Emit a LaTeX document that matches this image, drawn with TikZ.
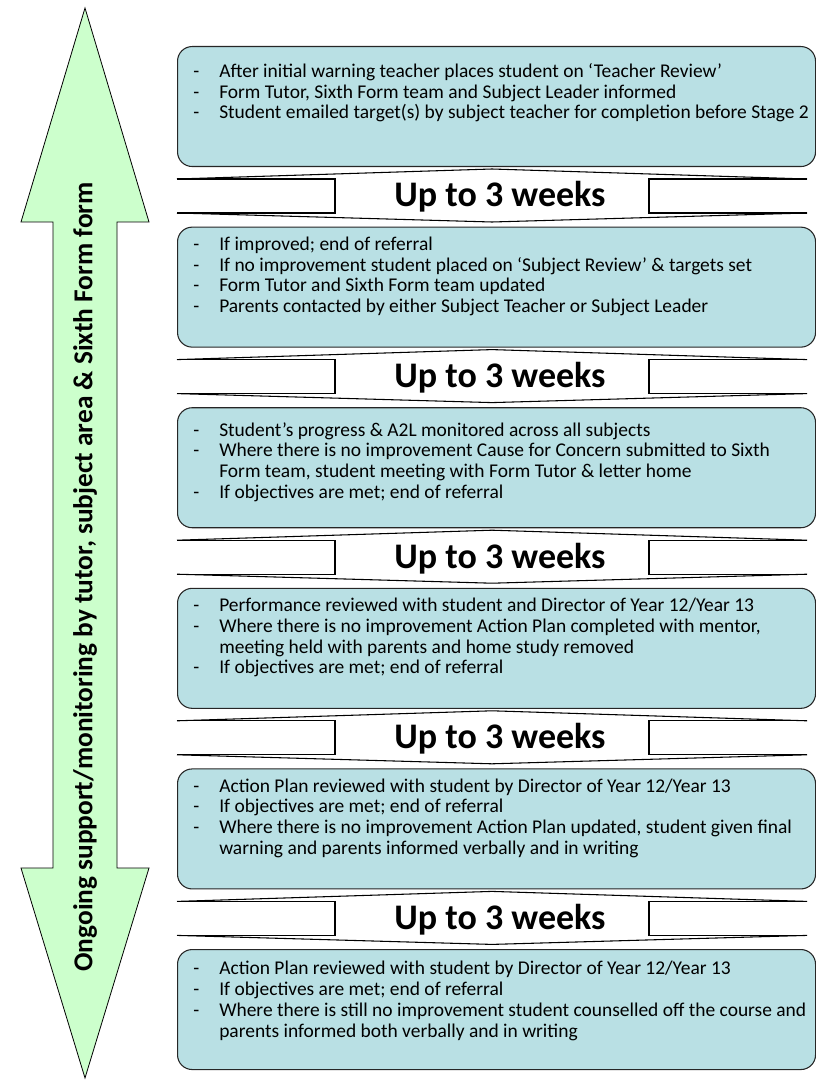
\documentclass[tikz,border=0pt]{standalone}
\usepackage{fontspec}
\setmainfont{Carlito}
\definecolor{stagefill}{RGB}{185,224,228}
\definecolor{arrowfill}{RGB}{204,255,204}
\newcommand{\itm}{\makebox[19.5pt][l]{-}}
\newcommand{\cnt}{\hspace*{19.5pt}}
\begin{document}
\begin{tikzpicture}[x=0.75pt,y=-0.75pt,
    stagebox/.style={draw=black!85,fill=stagefill,rounded corners=11pt,line width=0.8pt,
      minimum width=478.5pt,minimum height=90pt,anchor=north west,inner sep=0pt},
    stagetext/.style={anchor=north west,inner sep=0pt,align=left,font=\fontsize{14.6}{15.6}\selectfont},
    weeks/.style={font=\bfseries\fontsize{27}{30}\selectfont,inner sep=0pt},
    band/.style={draw=black,line width=0.8pt}]
  \useasboundingbox (0,0) rectangle (816,1080);
  % side arrow
  \draw[fill=arrowfill,line width=0.6pt] (85,8) -- (149,222) -- (117,222) -- (117,868) -- (149,868)
    -- (85,1078) -- (21,868) -- (53,868) -- (53,222) -- (21,222) -- cycle;
  \node[rotate=90,font=\bfseries\fontsize{20.5}{24}\selectfont] (side) at (85,577)
    {Ongoing support/monitoring by tutor, subject area \& Sixth Form form};
  % stage boxes
  \foreach \i in {1,...,6}{
    \pgfmathsetmacro{\ytop}{46+180.6*(\i-1)}
    \node[stagebox] (s\i) at (177,\ytop) {};
  }
  % bands between stages
  \foreach \i in {1,...,5}{
    \pgfmathsetmacro{\c}{46+180.6*(\i-1)+151}
    \path[fill=white] (177,\c-18) -- (492,\c-28) -- (807,\c-18) -- (807,\c+16) -- (492,\c+25) -- (177,\c+16) -- cycle;
    \draw[band] (177,\c-18) -- (492,\c-28) -- (807,\c-18);
    \draw[band] (177,\c+16) -- (492,\c+25) -- (807,\c+16);
    \draw[band] (177,\c-18) -- (335,\c-18) -- (335,\c+16) -- (177,\c+16);
    \draw[band] (807,\c-18) -- (649,\c-18) -- (649,\c+16) -- (807,\c+16);
    \node[weeks] (w\i) at (500,\c) {Up to 3 weeks};
  }
  % stage texts
  \node[stagetext] (t1) at ([shift={(16,17)}]s1.north west)
    {\itm After initial warning teacher places student on ‘Teacher Review’\\
     \itm Form Tutor, Sixth Form team and Subject Leader informed\\
     \itm Student emailed target(s) by subject teacher for completion before Stage 2};
  \node[stagetext] (t2) at ([shift={(16,10)}]s2.north west)
    {\itm If improved; end of referral\\
     \itm If no improvement student placed on ‘Subject Review’ \& targets set\\
     \itm Form Tutor and Sixth Form team updated\\
     \itm Parents contacted by either Subject Teacher or Subject Leader};
  \node[stagetext] (t3) at ([shift={(16,15)}]s3.north west)
    {\itm Student’s progress \& A2L monitored across all subjects\\
     \itm Where there is no improvement Cause for Concern submitted to Sixth\\
     \cnt Form team, student meeting with Form Tutor \& letter home\\
     \itm If objectives are met; end of referral};
  \node[stagetext] (t4) at ([shift={(16,10)}]s4.north west)
    {\itm Performance reviewed with student and Director of Year 12/Year 13\\
     \itm Where there is no improvement Action Plan completed with mentor,\\
     \cnt meeting held with parents and home study removed\\
     \itm If objectives are met; end of referral};
  \node[stagetext] (t5) at ([shift={(16,10)}]s5.north west)
    {\itm Action Plan reviewed with student by Director of Year 12/Year 13\\
     \itm If objectives are met; end of referral\\
     \itm Where there is no improvement Action Plan updated, student given final\\
     \cnt warning and parents informed verbally and in writing};
  \node[stagetext] (t6) at ([shift={(16,12)}]s6.north west)
    {\itm Action Plan reviewed with student by Director of Year 12/Year 13\\
     \itm If objectives are met; end of referral\\
     \itm Where there is still no improvement student counselled off the course and\\
     \cnt parents informed both verbally and in writing};
\end{tikzpicture}
\end{document}
